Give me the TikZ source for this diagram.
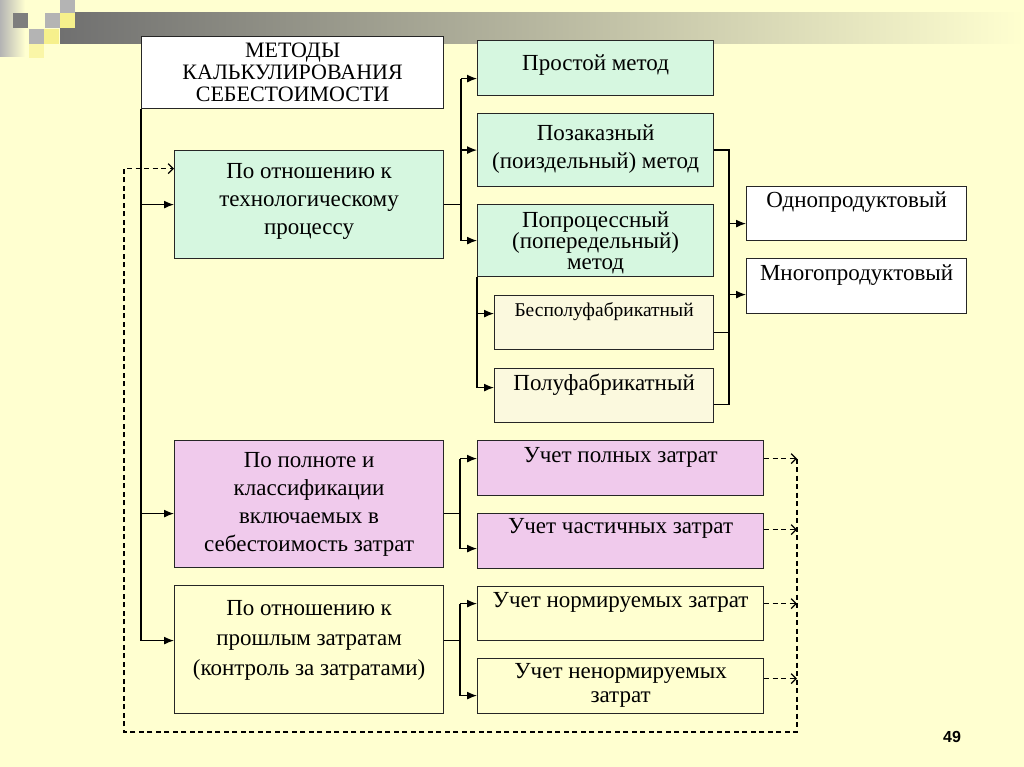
\documentclass[tikz,border=0pt]{standalone}
\usepackage{fontspec}
\setmainfont{Liberation Serif}
\newfontfamily\numfont{Liberation Sans}
\usetikzlibrary{arrows.meta}
\definecolor{bgc}{RGB}{255,255,208}
\definecolor{barg}{RGB}{112,112,112}
\definecolor{sqgray}{RGB}{180,180,180}
\definecolor{sqyel}{RGB}{246,240,140}
\definecolor{mint}{RGB}{214,247,224}
\definecolor{pinkc}{RGB}{240,202,236}
\definecolor{cream}{RGB}{251,249,222}

\begin{document}
\begin{tikzpicture}[x=1pt,y=-1pt,
  box/.style={draw=black!85,line width=1.2pt,anchor=north west,inner sep=0pt},
  lbl/.style={anchor=north,align=center,inner sep=0pt,font=\fontsize{23}{28}\selectfont},
  lnk/.style={line width=1.3pt},
  arr/.style={line width=1.3pt,-{Latex[length=10pt,width=8pt]}},
  dsh/.style={line width=1.2pt,dash pattern=on 5pt off 3.5pt,-{Straight Barb[length=5pt,width=10pt]}}]
\path[use as bounding box,fill=bgc] (0,0) rectangle (1024,767);
\shade[left color=sqgray,right color=bgc] (0,0) rectangle (25,57);
\shade[left color=barg,right color=bgc] (60,13) rectangle (1024,44);
\fill[barg!90] (13,13) rectangle (28,28);
\fill[sqgray] (60,0) rectangle (75,13);
\fill[sqgray] (45,13) rectangle (60,28);
\fill[sqgray] (29,29) rectangle (44,44);
\fill[sqyel] (60,13) rectangle (75,28);
\fill[sqyel] (44,29) rectangle (59,44);
\fill[sqyel!60!bgc] (29,44) rectangle (44,58);

\node[box,fill=white,minimum width=302pt,minimum height=72pt,label={[lbl,yshift=-7pt,font=\fontsize{22}{22}\selectfont]north:{МЕТОДЫ\\КАЛЬКУЛИРОВАНИЯ\\СЕБЕСТОИМОСТИ}}] (title) at (141,36) {};
\node[box,fill=mint,minimum width=269pt,minimum height=108pt,label={[lbl,yshift=-13pt]north:{По отношению к\\технологическому\\процессу}}] (tech) at (174,150) {};
\node[box,fill=mint,minimum width=236pt,minimum height=55pt,label={[lbl,yshift=-14.5pt]north:{Простой метод}}] (simple) at (477,40) {};
\node[box,fill=mint,minimum width=236pt,minimum height=73pt,label={[lbl,yshift=-11.5pt]north:{Позаказный\\(поиздельный) метод}}] (pozak) at (477,113) {};
\node[box,fill=mint,minimum width=236pt,minimum height=72pt,label={[lbl,yshift=-7.5pt,font=\fontsize{23}{21}\selectfont]north:{Попроцессный\\(попередельный)\\метод}}] (poproc) at (477,204) {};
\node[box,fill=cream,minimum width=219pt,minimum height=54pt,label={[lbl,yshift=-7pt,font=\fontsize{19.5}{21}\selectfont]north:{Бесполуфабрикатный}}] (bespolu) at (494,295) {};
\node[box,fill=cream,minimum width=219pt,minimum height=54pt,label={[lbl,yshift=-5.5pt]north:{Полуфабрикатный}}] (polu) at (494,368) {};
\node[box,fill=white,minimum width=220pt,minimum height=54pt,label={[lbl,yshift=-5.5pt]north:{Однопродуктовый}}] (odno) at (746,186) {};
\node[box,fill=white,minimum width=220pt,minimum height=55pt,label={[lbl,yshift=-6.5pt]north:{Многопродуктовый}}] (mnogo) at (746,258) {};
\node[box,fill=pinkc,minimum width=269pt,minimum height=127pt,label={[lbl,yshift=-12pt]north:{По полноте и\\классификации\\включаемых в\\себестоимость затрат}}] (full) at (174,440) {};
\node[box,fill=bgc,minimum width=269pt,minimum height=128pt,label={[lbl,yshift=-15pt,font=\fontsize{23}{30}\selectfont]north:{По отношению к\\прошлым затратам\\(контроль за затратами)}}] (past) at (174,585) {};
\node[box,fill=pinkc,minimum width=286pt,minimum height=55pt,label={[lbl,yshift=-7pt]north:{Учет полных затрат}}] (poln) at (477,440) {};
\node[box,fill=pinkc,minimum width=286pt,minimum height=55pt,label={[lbl,yshift=-5pt]north:{Учет частичных затрат}}] (chast) at (477,513) {};
\node[box,fill=bgc,minimum width=286pt,minimum height=54pt,label={[lbl,yshift=-6pt]north:{Учет нормируемых затрат}}] (norm) at (477,586) {};
\node[box,fill=bgc,minimum width=286pt,minimum height=55pt,label={[lbl,yshift=-5pt,font=\fontsize{23}{24}\selectfont]north:{Учет ненормируемых\\затрат}}] (nenorm) at (477,658) {};
\node[font=\numfont\bfseries\fontsize{16}{16}\selectfont] (pnum) at (952,737) {49};

\coordinate (tbus) at (461,0);
\coordinate (rbus) at (729,0);
\coordinate (lbus) at (460,0);
\coordinate (dr) at (797,732);
\coordinate (dl) at (124,732);

\draw[lnk] (title.south west) -- ([yshift=9pt]past.west -| title.south west);
\draw[arr] (tech.west -| title.south west) -- (tech.west);
\draw[arr] ([yshift=-9.5pt]full.west -| title.south west) -- ([yshift=-9.5pt]full.west);
\draw[arr] ([yshift=9pt]past.west -| title.south west) -- ([yshift=9pt]past.west);

\draw[lnk] (tech.east) -- (tech.east -| tbus);
\draw[lnk] ([yshift=-10.5pt]simple.west -| tbus) -- (poproc.west -| tbus);
\draw[arr] ([yshift=-10.5pt]simple.west -| tbus) -- ([yshift=-10.5pt]simple.west);
\draw[arr] (pozak.west -| tbus) -- (pozak.west);
\draw[arr] (poproc.west -| tbus) -- (poproc.west);

\draw[lnk] (poproc.south west) -- ([yshift=8pt]polu.west -| poproc.south west);
\draw[arr] ([yshift=9pt]bespolu.west -| poproc.south west) -- ([yshift=9pt]bespolu.west);
\draw[arr] ([yshift=8pt]polu.west -| poproc.south west) -- ([yshift=8pt]polu.west);

\draw[lnk] (pozak.east) -| ([yshift=-9pt]polu.east -| rbus) -- ([yshift=-9pt]polu.east);
\draw[lnk] ([yshift=-10pt]bespolu.east) -- ([yshift=-10pt]bespolu.east -| rbus);
\draw[arr] ([yshift=-10pt]odno.west -| rbus) -- ([yshift=-10pt]odno.west);
\draw[arr] ([yshift=-8.5pt]mnogo.west -| rbus) -- ([yshift=-8.5pt]mnogo.west);

\draw[lnk] ([yshift=-9.5pt]full.east) -- ([yshift=-9.5pt]full.east -| lbus);
\draw[lnk] ([yshift=9.5pt]poln.west -| lbus) -- ([yshift=-7.5pt]chast.west -| lbus);
\draw[arr] ([yshift=9.5pt]poln.west -| lbus) -- ([yshift=9.5pt]poln.west);
\draw[arr] ([yshift=-7.5pt]chast.west -| lbus) -- ([yshift=-7.5pt]chast.west);

\draw[lnk] ([yshift=9pt]past.east) -- ([yshift=9pt]past.east -| lbus);
\draw[lnk] ([yshift=10pt]norm.west -| lbus) -- ([yshift=-9.5pt]nenorm.west -| lbus);
\draw[arr] ([yshift=10pt]norm.west -| lbus) -- ([yshift=10pt]norm.west);
\draw[arr] ([yshift=-9.5pt]nenorm.west -| lbus) -- ([yshift=-9.5pt]nenorm.west);

\draw[dsh] ([yshift=9.5pt]poln.east) -- ([yshift=9.5pt]poln.east -| dr);
\draw[dsh] ([yshift=11.5pt]chast.east) -- ([yshift=11.5pt]chast.east -| dr);
\draw[dsh] ([yshift=10pt]norm.east) -- ([yshift=10pt]norm.east -| dr);
\draw[dsh] ([yshift=7.5pt]nenorm.east) -- ([yshift=7.5pt]nenorm.east -| dr);
\draw[dsh] ([yshift=9.5pt]poln.east -| dr) -- (dr) -- (dl) -- ([yshift=36pt]tech.west -| dl) -- ([yshift=36pt]tech.west);
\end{tikzpicture}
\end{document}
